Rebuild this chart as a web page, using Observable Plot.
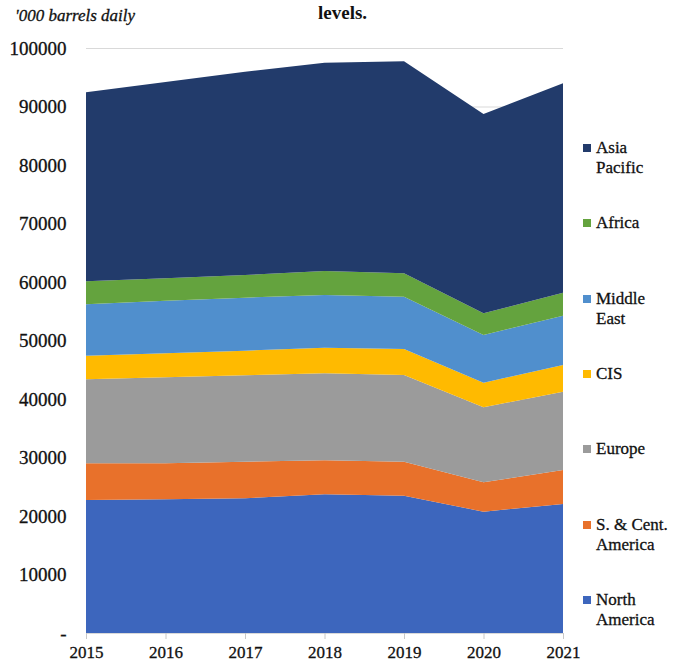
<!DOCTYPE html>
<html>
<head>
<meta charset="utf-8">
<script src="https://cdn.jsdelivr.net/npm/d3@7"></script>
<script src="https://cdn.jsdelivr.net/npm/@observablehq/plot@0.6"></script>
<style>
  html, body { margin: 0; padding: 0; background: #fff; }
  #wrap { position: relative; width: 675px; height: 668px; font-family: "Liberation Serif", "Times New Roman", serif; }
  #wrap svg { position: absolute; left: 0; top: 0; }
  #wrap svg text { stroke: #111; stroke-width: 0.3px; }
  .unit { position: absolute; left: 15px; top: 6px; font-style: italic; font-size: 17px; color: #111; -webkit-text-stroke: 0.3px #111; }
  .title { position: absolute; left: 318px; top: 2px; font-weight: bold; font-size: 19px; color: #111; }
  .leg { position: absolute; left: 583px; font-size: 17px; line-height: 20px; color: #111; -webkit-text-stroke: 0.3px #111; }
  .leg .sw { position: absolute; left: 0; top: 6px; width: 8px; height: 8px; }
  .leg .tx { margin-left: 13px; white-space: pre; }
</style>
</head>
<body>
<div id="wrap"></div>
<script>
const years = [2015, 2016, 2017, 2018, 2019, 2020, 2021];
const regions = ["North America", "S. & Cent. America", "Europe", "CIS", "Middle East", "Africa", "Asia Pacific"];
const legendLabels = ["North\nAmerica", "S. & Cent.\nAmerica", "Europe", "CIS", "Middle\nEast", "Africa", "Asia\nPacific"];
const colors = ["#3d66bd", "#e8712b", "#9b9b9b", "#ffba00", "#508fcd", "#64a33e", "#223b6b"];

const northAmerica = [22740, 22850, 23030, 23710, 23470, 20740, 22050];
const southCentAmerica = [6260, 6150, 6250, 5810, 5810, 5020, 5810];
const europe = [14370, 14710, 14770, 14870, 14820, 12820, 13390];
const cis = [4030, 4100, 4210, 4380, 4450, 4210, 4560];
const middleEast = [8790, 8990, 9060, 9010, 8940, 8150, 8430];
const africa = [3930, 3830, 3880, 4100, 4000, 3710, 3930];
const asiaPacific = [32310, 33560, 34750, 35610, 36240, 34070, 35790];

const yTicks = [0, 10000, 20000, 30000, 40000, 50000, 60000, 70000, 80000, 90000, 100000];

const series = [northAmerica, southCentAmerica, europe, cis, middleEast, africa, asiaPacific];
const data = [];
regions.forEach((r, i) => years.forEach((y, j) => data.push({region: r, year: y, value: series[i][j]})));

const chart = Plot.plot({
  width: 675,
  height: 668,
  marginLeft: 86,
  marginRight: 112,
  marginTop: 48,
  marginBottom: 35,
  style: {fontFamily: "'Liberation Serif', 'Times New Roman', serif", color: "#111", background: "transparent"},
  x: {domain: [2015, 2021]},
  y: {domain: [0, 100000]},
  color: {domain: regions, range: colors},
  marks: [
    Plot.gridY(yTicks, {stroke: "#d9d9d9", strokeOpacity: 1}),
    Plot.areaY(data, {x: "year", y: "value", fill: "region", order: regions}),
    Plot.ruleY([0], {stroke: "#d9d9d9"}),
    Plot.axisY({ticks: yTicks, tickSize: 0, tickPadding: 20, fontSize: 19, label: null,
      tickFormat: d => d === 0 ? "-" : String(d)}),
    Plot.axisX({ticks: years, tickSize: 6, tickPadding: 6, fontSize: 17, label: null,
      stroke: "#c8c8c8", fill: "#111", tickFormat: d => String(d)})
  ]
});

const wrap = document.getElementById("wrap");
wrap.appendChild(chart);

const unit = document.createElement("div");
unit.className = "unit";
unit.textContent = "'000 barrels daily";
wrap.appendChild(unit);

const title = document.createElement("div");
title.className = "title";
title.textContent = "levels.";
wrap.appendChild(title);

// legend, top to bottom = reverse of stacking order
const legOrder = regions.map((r, i) => i).reverse();
legOrder.forEach((i, k) => {
  const d = document.createElement("div");
  d.className = "leg";
  d.style.top = (138 + k * 75.3) + "px";
  const sw = document.createElement("div");
  sw.className = "sw";
  sw.style.background = colors[i];
  const tx = document.createElement("div");
  tx.className = "tx";
  tx.textContent = legendLabels[i];
  d.appendChild(sw);
  d.appendChild(tx);
  wrap.appendChild(d);
});
</script>
</body>
</html>
